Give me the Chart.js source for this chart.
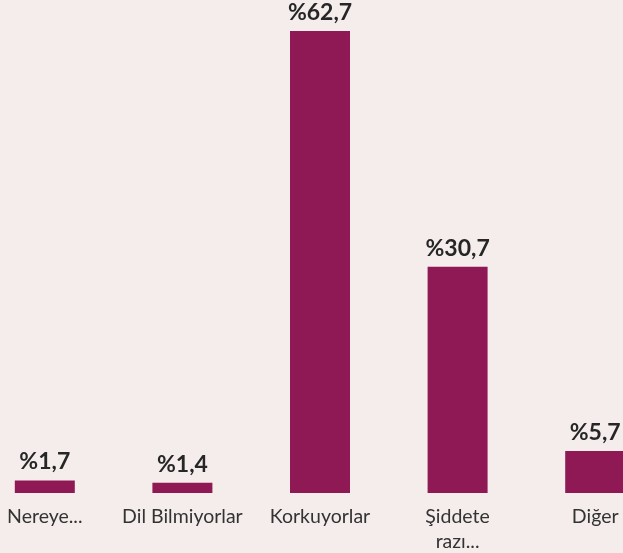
<!DOCTYPE html>
<html>
<head>
<meta charset="utf-8">
<script src="https://cdn.jsdelivr.net/npm/chart.js@4/dist/chart.umd.min.js"></script>
<style>
  html, body { margin: 0; padding: 0; background: #f5edec; overflow: hidden; }
  #wrap { position: absolute; left: -24px; top: 0; width: 688px; height: 553px; }
</style>
</head>
<body>
<div id="wrap"><canvas id="myChart"></canvas></div>
<script>
"use strict";

const categories = ["Nereye...", "Dil Bilmiyorlar", "Korkuyorlar", ["Şiddete", "razı..."], "Diğer"];
const values = [1.7, 1.4, 62.7, 30.7, 5.7];
const valueLabels = ["%1,7", "%1,4", "%62,7", "%30,7", "%5,7"];

// draws the % labels above each bar
const barLabels = {
  id: "barLabels",
  afterDatasetsDraw(chart) {
    const ctx = chart.ctx;
    const meta = chart.getDatasetMeta(0);
    ctx.save();
    ctx.font = "bold 23px Lato";
    ctx.fillStyle = "#262626";
    ctx.textAlign = "center";
    ctx.textBaseline = "alphabetic";
    meta.data.forEach((bar, i) => {
      ctx.fillText(valueLabels[i], bar.x, bar.y - 11);
    });
    ctx.restore();
  }
};

const config = {
  type: "bar",
  data: {
    labels: categories,
    datasets: [{
      data: values,
      backgroundColor: "#8f1955",
      borderWidth: 0,
      barPercentage: 0.436,
      categoryPercentage: 1
    }]
  },
  options: {
    responsive: true,
    maintainAspectRatio: false,
    animation: false,
    layout: { padding: { top: 31, left: 0, right: 0, bottom: 0 } },
    plugins: {
      legend: { display: false },
      tooltip: { enabled: false }
    },
    scales: {
      x: {
        grid: { display: false },
        border: { display: false },
        ticks: {
          color: "#333333",
          font: { family: "Lato", size: 19.5, lineHeight: 1.28 },
          padding: 3,
          maxRotation: 0,
          autoSkip: false
        },
        afterFit(scale) { scale.height = 60; }
      },
      y: {
        display: false,
        min: 0,
        max: 62.7
      }
    }
  },
  plugins: [barLabels]
};

new Chart(document.getElementById("myChart").getContext("2d"), config);
</script>
</body>
</html>
